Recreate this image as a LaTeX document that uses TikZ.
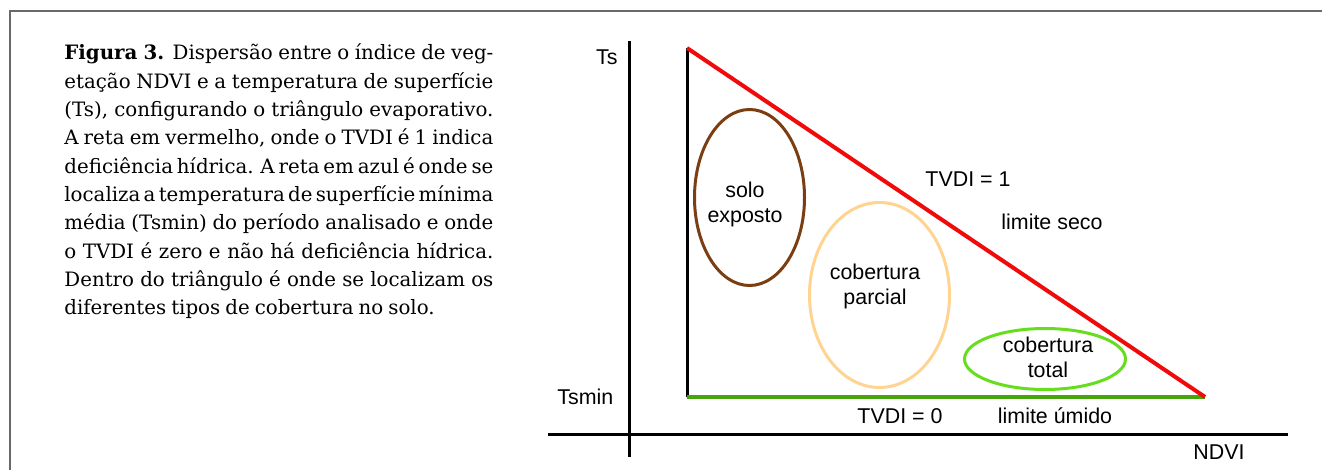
\documentclass[tikz,border=0pt]{standalone}
\usepackage{fontspec}
\setmainfont{DejaVu Serif}[WordSpace={0.8,1,1.2}]
\setsansfont{Liberation Sans}
\usepackage{xcolor}
\definecolor{framegray}{RGB}{105,105,105}
\definecolor{dryred}{RGB}{240,10,10}
\definecolor{wetgreen}{RGB}{70,165,10}
\definecolor{soilbrown}{RGB}{122,62,18}
\definecolor{partorange}{RGB}{255,212,145}
\definecolor{fullgreen}{RGB}{102,222,30}
\usetikzlibrary{positioning, calc, shapes.geometric}
\tikzstyle{Axis} = [line width=1.5pt, black]
\tikzstyle{Zone} = [draw, ellipse, line width=1.5pt, inner sep=0pt]
\tikzstyle{Label} = [font=\sffamily\fontsize{10.7}{12.5}\selectfont, align=center, inner sep=0pt]

\begin{document}
\begin{tikzpicture}[x=0.5pt, y=-0.5pt]
    \useasboundingbox (0,0) rectangle (1322,470);

    % moldura
    \coordinate (fbot) at (10,470);
    \coordinate (fcorner) at (10,11);
    \coordinate (fright) at (1322,11);
    \draw[framegray, line width=1.1pt] (fbot) -- (fcorner) -- (fright);

    % legenda
    \node [anchor=base west, inner sep=0pt, text width=214.5pt, align=justify,
           font=\fontsize{9.9}{14.15}\selectfont] (caption) at (64,60)
    {\textbf{Figura 3.} Dispersão entre o índice de veg-\linebreak
    etação NDVI e a temperatura de superfície\linebreak
    (Ts), configurando o triângulo evaporativo.\linebreak
    A reta em vermelho, onde o TVDI é 1 indica\linebreak
    deficiência hídrica. A reta em azul é onde se\linebreak
    localiza a temperatura de superfície mínima\linebreak
    média (Tsmin) do período analisado e onde\linebreak
    o TVDI é zero e não há deficiência hídrica.\linebreak
    Dentro do triângulo é onde se localizam os\linebreak
    diferentes tipos de cobertura no solo.};

    % eixos
    \coordinate (ytop) at (629,41);
    \coordinate (ybot) at (629,457);
    \coordinate (xleft) at (548,434);
    \coordinate (xright) at (1288,434);
    \draw[Axis] (ytop) -- (ybot);
    \draw[Axis] (xleft) -- (xright);
    \node [Label, anchor=east] (ts) at (618,57) {Ts};
    \node [Label, anchor=west] (tsmin) at (557,397) {Tsmin};
    \node [Label] (ndvi) at (1219,452) {NDVI};

    % zonas de cobertura
    \node [Zone, soilbrown, minimum width=55pt, minimum height=88pt] (solo) at (749.5,197.5) {};
    \node [Zone, partorange, minimum width=70pt, minimum height=92.5pt] (parcial) at (879.5,295) {};
    \node [Zone, fullgreen, minimum width=80.5pt, minimum height=30.5pt] (total) at (1045,359) {};
    \node [Label] (solotxt) at (745,204.5) {solo\\exposto};
    \node [Label] (parcialtxt) at (875,286.5) {cobertura\\parcial};
    \node [Label] (totaltxt) at (1048,357.5) {cobertura\\total};

    % triangulo
    \coordinate (apex) at (687,48);
    \coordinate (corner) at (687,397);
    \coordinate (tip) at (1205,397);
    \draw[Axis] (corner) -- (apex);
    \draw[wetgreen, line width=2pt] (corner) -- (tip);
    \draw[dryred, line width=2pt] (apex) -- (tip);

    \node [Label] (tvdione) at (968,179) {TVDI = 1};
    \node [Label] (seco) at (1052,222) {limite seco};
    \node [Label] (tvdizero) at (900,416) {TVDI = 0};
    \node [Label] (umido) at (1055,416) {limite úmido};
\end{tikzpicture}
\end{document}
